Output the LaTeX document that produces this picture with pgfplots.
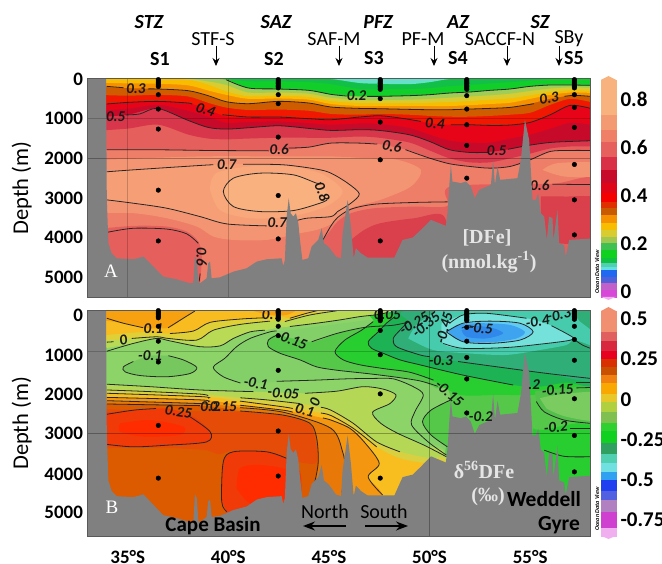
\documentclass[border=0pt]{standalone}
\usepackage{fontspec}
\setmainfont{Carlito}
\newfontfamily\serif{Liberation Serif}
\usepackage{pgfplots}
\pgfplotsset{compat=1.18}
\usepackage{pgfplotstable}
\usetikzlibrary{arrows.meta}

% one picture point is one pixel of the original
\newcommand{\fs}[1]{\fontsize{#1}{#1}\selectfont}
\newcommand{\zone}[2]{\definecolor{c#1}{HTML}{#1}\addplot[fill=c#1,draw=none,smooth] coordinates {#2} -- cycle;}
\newcommand{\sharpzone}[2]{\definecolor{c#1}{HTML}{#1}\addplot[fill=c#1,draw=none] coordinates {#2} -- cycle;}
\newcommand{\bandA}[2]{\definecolor{c#2}{HTML}{#2}\addplot[fill=c#2,draw=none,smooth] table[x=lat,y=#1] {\bandsA} \closedcycle;}
\newcommand{\cb}[3]{\definecolor{c#3}{HTML}{#3}\addplot[fill=c#3,draw=c#3,line width=.1pt] coordinates {(0,#1)(1,#1)(1,#2)(0,#2)} -- cycle;}
\newcommand{\ctr}[1]{\addplot[cl] coordinates {#1};}
\newcommand{\clab}[4][0]{\node[font=\fs{15}\bfseries\itshape,text=black!90,inner sep=0pt,rotate=#1] at (axis cs:#2,#3) {#4};}
\newcommand{\lab}[4][]{\node[inner sep=0pt,#1] at ({#2pt},{563pt-#3pt}) {#4};}

\pgfplotstableread{
lat a b c d e f g h i j k l m
33.5 0 0 0 0 0 90 185 400 631 800 959 1300 1783
35 0 0 0 0 0 110 227 420 589 750 900 1250 1783
36.5 0 0 0 0 0 120 252 400 564 650 740 1150 1783
38 0 0 0 0 17 160 294 440 605 800 1043 1400 1791
39 0 0 0 60 143 290 420 600 774 950 1220 1500 1800
39.9 0 0 17 150 311 400 572 720 942 1100 1262 1520 1800
41 0 60 227 340 437 500 622 780 958 1080 1228 1500 1808
42.5 0 60 252 340 420 490 563 770 958 1070 1178 1480 1800
44 0 80 286 370 454 520 605 800 1000 1110 1245 1480 1716
45.1 0 130 387 470 555 630 706 880 1026 1150 1295 1480 1615
46.5 100 250 437 530 605 680 740 900 959 1120 1278 1450 1615
47.5 120 260 437 530 605 680 748 880 925 1130 1295 1480 1640
49 130 250 420 520 605 680 765 900 1010 1230 1405 1600 1800
50 80 230 395 500 597 680 774 930 1110 1400 1573 1800 1993
51 0 180 353 470 580 680 774 950 1152 1550 1783 2000 2136
52 0 150 328 440 555 660 757 950 1152 1600 1850 2100 2203
53 0 110 286 410 521 630 740 930 1169 1600 1833 2100 2246
54 0 80 252 370 488 600 715 900 1160 1500 1766 2000 2203
55 0 40 185 300 412 500 622 850 1093 1400 1665 1880 2035
56 0 0 151 240 328 400 496 650 900 1250 1598 1750 1825
57 0 0 151 210 286 340 420 500 664 1100 1573 1700 1800
58 0 0 160 220 295 350 437 580 740 1150 1556 1700 1800
}\bandsA

\pgfplotstableread{
lat depth
33 0
33.92 0
33.96 3044
34.04 4138
34.2 4390
34.45 4516
35.28 4541
35.78 4474
36.11 4642
36.77 4979
37.43 5046
38.1 5147
38.26 5130
38.34 4474
38.43 4558
38.51 5105
38.59 5147
38.92 5021
39 4642
39.09 4600
39.17 5021
39.59 4995
40.25 4853
40.91 4768
41.41 4600
41.9 4541
42.65 4516
42.73 4710
42.81 4558
42.9 3465
43 3002
43.1 3381
43.23 3465
43.36 3381
43.48 3633
43.56 4054
43.68 4558
43.97 4516
44.14 4222
44.47 4054
44.64 3759
44.75 4138
44.97 4222
45.1 4306
45.35 4474
45.6 4516
45.68 3885
45.93 3044
46.09 3717
46.23 4516
46.34 4264
46.59 4390
46.92 4499
48.25 4499
48.66 4054
49.16 3995
49.57 3801
50.07 3549
50.81 3700
50.89 3381
50.98 2708
51.06 2161
51.14 2582
51.56 2624
51.81 2582
52.05 2708
52.25 3002
52.47 2792
53.05 2666
53.16 2035
53.25 2666
53.38 2203
53.51 2540
54.37 2498
54.54 2035
54.74 1026
54.95 1531
55.12 3044
55.28 3044
55.4 2876
55.53 3381
55.7 3465
55.83 4054
55.94 3465
56.11 3507
56.16 4054
56.36 3297
56.44 4138
56.69 4180
56.77 4474
56.94 4054
58 4020
58 5600
33 5600
}\bathy

\pgfplotstableread{
lat depth
36.52 15
36.52 50
36.52 85
36.52 120
36.52 155
36.52 190
36.52 395
36.52 757
36.52 1261
36.52 2800
36.52 4079
42.48 15
42.48 50
42.48 85
42.48 120
42.48 155
42.48 190
42.48 225
42.48 395
42.48 622
42.48 1463
42.48 2935
42.48 4028
47.55 15
47.55 50
47.55 85
47.55 120
47.55 155
47.55 190
47.55 225
47.55 260
47.55 496
47.55 1085
47.55 2035
47.55 4079
51.85 15
51.85 50
51.85 85
51.85 120
51.85 155
51.85 190
51.85 225
51.85 260
51.85 420
51.85 757
51.85 1152
51.85 1673
51.85 2498
57.2 15
57.2 50
57.2 85
57.2 120
57.2 155
57.2 190
57.2 225
57.2 395
57.2 715
57.2 1219
57.2 2153
57.2 3044
57.2 3927
}\stations

\pgfplotsset{
  panel/.style={
    scale only axis, width=503pt, y dir=reverse, xmin=33, xmax=58, ymin=0,
    axis on top, axis line style={draw=black!65,line width=1pt},
    xtick={35,40,45,50,55}, major tick length=0pt,
    ytick={0,1000,2000,3000,4000,5000},
    yticklabels={0,1000,2000,3000,4000,5000},
    tick label style={font=\fs{19}\bfseries},
    yticklabel shift=1pt,
    ylabel={Depth (m)}, 
    every axis y label/.style={at={(axis description cs:-0.131,0.5)},rotate=90,anchor=center,font=\fs{22.5}},
  },
  cl/.style={draw=black!85,line width=.8pt,smooth},
  barax/.style={
    scale only axis, width=15pt, xmin=0, xmax=1, xtick=\empty,
    axis line style={draw=none}, major tick length=0pt, clip=false,
    yticklabel pos=right, yticklabel shift=1pt,
    tick label style={font=\fs{21}\bfseries},
  },
}

\begin{document}
\begin{tikzpicture}[x=1pt,y=1pt]
\path[use as bounding box] (0,0) rectangle (662pt,563pt);

%% panel A, [DFe]
\begin{axis}[panel, at={(87.5pt,265.3pt)}, anchor=south west, height=218.7pt, ymax=5509, xticklabels={}]
\sharpzone{EE7E68}{(33,0)(58,0)(58,5509)(33,5509)}
\zone{F39472}{(33.5,2040)(38.59,1950)(42.73,1950)(45.1,1950)(46.75,1990)(48.41,2035)(49.57,2290)(49.07,2710)(47.58,3040)(46.09,3255)(45.21,3630)(44.39,3800)(43.56,3885)(41.9,4054)(40.25,4054)(39.26,3970)(38.43,3717)(36.94,3507)(35.28,3380)(33.5,3380)}
\zone{F39472}{(55.61,2290)(56.36,2120)(58.5,2120)(58.5,2456)(56.69,2456)(55.61,2290)}
\zone{E5605C}{(33,3800)(35.28,3700)(36.94,3717)(37.93,3843)(38.51,4096)(38.68,4474)(38.6,5147)(38.6,5500)(33,5500)}
\zone{E5605C}{(44.22,4558)(44.72,4054)(45.1,3801)(45.43,3591)(46.09,3381)(47.25,3255)(49.24,3213)(50.9,3196)(51.06,2708)(56.03,2640)(58.5,2650)(58.5,5500)(44.22,5500)}
\zone{D9404C}{(46.09,4054)(46.76,3801)(47.55,3633)(49.24,3507)(50.73,3465)(50.73,4726)(46.09,4726)}
\zone{D9404C}{(55.53,2960)(56.69,2960)(58.5,3044)(58.5,4100)(55.53,4100)}
% the warm core round S2
\zone{F69F76}{(33.92,2338)(35.28,2288)(38.59,2178)(40.74,2145)(42.73,2161)(44.39,2271)(45.1,2372)(45.93,2624)(46.51,2893)(46.09,3129)(45.43,3339)(45.1,3465)(43.89,3507)(42.9,3650)(41.9,3700)(39.92,3650)(38.59,3465)(36.94,3255)(35.28,3129)(33.92,3044)}
\zone{F8A87A}{(39.08,2770)(39.4,2370)(41.08,2200)(43.07,2200)(44.72,2410)(45.68,2834)(44.85,3213)(43.07,3465)(41.08,3507)(39.58,3300)(39.08,2770)}
\zone{F9B27F}{(39.75,2834)(40.25,2498)(41.57,2372)(43.23,2414)(44.39,2624)(45.05,2960)(44.55,3129)(43.23,3314)(41.57,3339)(40.25,3213)(39.75,2834)}
% stratified upper water, deepest level first
\bandA{m}{E5605C}
\bandA{l}{D8364A}
\bandA{k}{C80A2A}
\bandA{j}{E80418}
\bandA{i}{F01800}
\bandA{h}{D05C00}
\bandA{g}{F59000}
\bandA{f}{F8BC00}
\bandA{e}{D8CC30}
\bandA{d}{A0CC58}
\bandA{c}{12CE28}
\bandA{b}{12C048}
\bandA{a}{66E0C8}
% contours
\ctr{(39.9,20)(41,227)(42.5,252)(44,286)(45.1,387)(45.9,430)}
\ctr{(46.9,437)(47.5,437)(49,420)(50,395)(51,353)(52,328)(53,286)(54,252)(55,185)(56,151)(57,151)(58,160)}
\ctr{(33.95,185)(34.8,220)}
\ctr{(36,250)(36.5,252)(38,294)(39,420)(39.9,572)(41,622)(42.5,563)(44,605)(45.1,706)(46.5,740)(47.5,748)(49,765)(50,774)(51,774)(52,757)(53,740)(54,715)(55.2,622)}
\ctr{(56.7,437)(57.2,412)(58,437)}
\ctr{(33.95,631)(35,589)(36.5,564)(38,605)(38.2,640)}
\ctr{(39.7,900)(41,958)(42.5,958)(44,1000)(45.1,1026)(46.5,959)(47.5,925)(48.5,980)(49.57,1068)}
\ctr{(51.06,1152)(52,1152)(53,1169)(54,1160)(55,1093)(56,900)(57,664)(58,740)}
\ctr{(34.9,905)(35.6,880)(36.5,740)(38,1043)(39,1220)(39.9,1262)(41,1228)(42.5,1178)(44,1245)(45.1,1295)(46.5,1278)(47.5,1295)(49,1405)(50,1573)(51,1783)(52,1850)(52.9,1850)}
\ctr{(53.9,1770)(55,1665)(56,1598)(57,1573)(58,1556)}
\ctr{(33.95,1783)(36.5,1783)(39,1800)(41.5,1808)(42,1810)}
\ctr{(43,1740)(44,1716)(45.1,1615)(46.5,1615)(47.4,1640)}
\ctr{(48.8,1780)(50,1993)(51,2136)(52,2203)(53,2246)(54,2203)(55,2035)(56,1825)(57,1800)(58,1800)}
\ctr{(33.95,2338)(35.28,2288)(38.59,2178)(39.25,2160)}
\ctr{(40.74,2145)(42.73,2161)(44.39,2271)(45.1,2372)(45.93,2624)(46.51,2893)(46.09,3129)(45.43,3339)(45.1,3465)(43.89,3507)(43.3,3580)}
\ctr{(41.9,3700)(39.92,3650)(38.59,3465)(36.94,3255)(35.28,3129)(33.95,3044)}
\ctr{(44.6,2600)(44.39,2624)(43.23,2414)(41.57,2372)(40.25,2498)(39.75,2834)(40.25,3213)(41.57,3339)(43.23,3314)(44.55,3129)(44.9,3050)}
\ctr{(34,3860)(35.28,3760)(36.94,3780)(37.93,3900)(38.51,4140)}
\ctr{(38.6,4900)(38.55,5100)}
\ctr{(44.7,4054)(45.1,3700)(45.43,3490)(46.09,3280)(47.25,3155)(49.24,3110)(50.9,3095)}
\ctr{(56.1,2650)(58,2660)}
\clab{55.48}{2691}{0.6}
\addplot[fill=black!50,draw=none] table[x=lat,y=depth] {\bathy} -- cycle;
\addplot[black,opacity=.2,line width=.7pt] coordinates {(33,1000)(58,1000)};
\addplot[black,opacity=.3,line width=.7pt] coordinates {(33,2000)(58,2000)};
\addplot[black,opacity=.2,line width=.7pt] coordinates {(35,0)(35,5509)};
\addplot[black,opacity=.2,line width=.7pt] coordinates {(40,0)(40,5509)};
\addplot[only marks,mark=*,mark size=2.3pt,black] table[x=lat,y=depth] {\stations};
\clab{35.41}{244}{0.3}
\clab[-20]{38.87}{774}{0.4}
\clab{34.4}{942}{0.5}
\clab{42.53}{1783}{0.6}
\clab{39.92}{2161}{0.7}
\clab[-70]{44.67}{2834}{0.8}
\clab{42.43}{3616}{0.7}
\clab[-90]{38.68}{4474}{0.6}
\clab{46.37}{420}{0.2}
\clab[-10]{48.13}{1700}{0.6}
\clab[-5]{50.27}{1127}{0.4}
\clab{53.33}{1808}{0.5}
\clab[8]{55.94}{480}{0.3}
\end{axis}

%% panel B, delta 56 DFe
\begin{axis}[panel, at={(87.5pt,26.3pt)}, anchor=south west, height=226.7pt, ymax=5500,
  xticklabels={35°S,40°S,45°S,50°S,55°S}, xticklabel shift=13pt,
  xticklabel style={inner sep=0pt},
  % the labels of the original stand a little off the true depths
  ytick={138,1092,2039,3001,3980,4911}]
\sharpzone{8CD468}{(33,0)(58,0)(58,5500)(33,5500)}
\zone{84D068}{(39.25,1390)(39.83,1170)(40.41,890)(41.08,690)(42.07,530)(43.06,490)(44.39,400)(45.71,320)(47.37,200)(48.36,0)(58.5,0)(58.5,5300)(50.84,5300)(50.84,3520)(49.93,3200)(49.11,2790)(49.27,2470)(49.69,2060)(49.19,1860)(48.2,1670)(47.2,1660)(45.88,1670)(44.39,1700)(41.9,1760)(40.75,1780)(39.75,1620)(39.25,1390)}
\zone{55C84A}{(41.99,730)(42.4,610)(44.14,770)(45.38,570)(46.54,440)(47.2,400)(47.7,240)(48.53,0)(58.5,0)(58.5,5300)(51.06,5300)(51.06,2180)(50.35,1900)(49.52,1720)(48.2,1620)(46.87,1540)(45.38,1460)(44.39,1380)(43.56,1210)(42.57,1050)(41.99,890)(41.99,730)}
\zone{28CE30}{(45.3,1010)(45.79,730)(46.62,490)(47.2,280)(47.86,0)(58.5,0)(58.5,1900)(55.81,1980)(55.15,2060)(53.49,2060)(51.51,2060)(50.35,1760)(49.02,1510)(47.7,1420)(46.54,1330)(45.71,1210)(45.3,1010)}
\zone{28CE30}{(55.15,2870)(55.61,2910)(58.5,2870)(58.5,5300)(55.15,5300)}
\zone{1DB254}{(46.95,770)(47.45,530)(47.86,320)(48.28,160)(48.53,0)(58.5,0)(58.5,1760)(56.8,1760)(55.48,1860)(54.16,1820)(51.67,1580)(49.52,1330)(48.53,1210)(47.7,1050)(47.12,930)(46.95,770)}
\zone{30AE78}{(48.2,690)(48.53,490)(48.94,280)(49.19,0)(58.5,0)(58.5,1660)(55.86,1540)(53.38,1380)(51.42,1250)(49.52,1090)(48.36,890)(48.2,690)}
\zone{46CCAC}{(48.94,690)(49.35,360)(50.18,80)(50.68,-50)(56.47,-50)(57.47,280)(58.5,690)(58.5,930)(57.22,730)(56.8,850)(55.48,970)(53.82,1090)(51.84,1050)(50.18,970)(48.94,690)}
\zone{74E2DA}{(50.6,320)(51.67,120)(52.83,80)(54.82,200)(56.06,380)(56.8,570)(57.17,690)(56.8,750)(55.48,830)(53.82,910)(51.67,930)(50.68,810)(50.6,320)}
\zone{62CCF0}{(50.84,530)(51.67,320)(52.99,270)(54.49,320)(55.15,530)(54.49,730)(52.99,810)(51.67,770)(50.84,530)}
\zone{3FA4F0}{(50.93,510)(51.42,360)(52.5,320)(53.99,360)(54.74,530)(54.32,690)(53.16,780)(52,780)(51.26,690)(50.93,510)}
\zone{2F88EA}{(51.59,490)(52.25,390)(53.16,440)(53.66,570)(52.83,690)(51.84,650)(51.59,490)}
\zone{52C04A}{(55.23,1980)(55.81,1940)(58.5,1900)(58.5,2750)(56.69,2670)(55.7,2470)(55.31,2220)}
\zone{7ACC60}{(55.48,2140)(56.47,2050)(58.5,2020)(58.5,2670)(56.8,2590)(55.81,2390)}
\zone{55C84A}{(51.06,2180)(50.07,2430)(49.65,2710)(50.07,3030)(50.89,3320)(51.06,3360)}
% warm deep water
\zone{B4D855}{(33,1800)(36.11,1860)(38.59,1940)(41.24,1980)(43.81,2020)(45.38,1970)(46.7,1860)(47.7,1920)(48.33,2060)(48.03,2270)(47.17,2480)(47.58,2750)(48.41,2990)(49.73,3280)(50.84,3560)(50.84,5300)(33,5300)}
\zone{D8D040}{(33,1940)(36.11,1980)(38.59,2040)(40.58,2130)(41.9,2180)(43.56,2270)(45.1,2430)(46.21,2750)(47.37,3200)(48.53,3440)(50.02,3600)(50.84,3680)(50.84,5300)(33,5300)}
\zone{F8BE20}{(33,2020)(38.59,2100)(40.58,2210)(42.73,2350)(45.1,2560)(46.21,2870)(47.37,3320)(48.53,3600)(49.85,3720)(50.84,3760)(50.84,5300)(33,5300)}
\zone{F4960F}{(33,2120)(38.59,2180)(40.58,2310)(42.73,2430)(45.1,2670)(46.04,2870)(46.75,3200)(47.5,3720)(46.95,4050)(47.67,4490)(47.67,5300)(33,5300)}
\zone{E87808}{(33,2200)(38.59,2270)(40.58,2370)(42.73,2480)(45.1,2870)(45.68,3440)(45.79,3840)(45.63,4490)(45.63,5300)(33,5300)}
\zone{DC5A00}{(33,2280)(38.59,2320)(40.58,2450)(42.73,2550)(44.06,2750)(44.39,3110)(44.47,3680)(44.3,4170)(44.06,4570)(44.06,5300)(33,5300)}
\zone{E44C08}{(33,2400)(38,2450)(40.58,2470)(42.73,2570)(44,2770)(44.3,3110)(44.4,3680)(43.6,3700)(40.5,3420)(39.5,3500)(38.9,3400)(37,3350)(33,3350)}
\zone{F03A08}{(33,2530)(35.28,2430)(36.94,2390)(38.26,2590)(39.09,2950)(38.92,3200)(36.94,3280)(35.28,3320)(33,3260)}
\zone{FF2C00}{(34.62,2750)(36.11,2670)(37.76,2830)(37.6,3030)(35.78,3070)(34.62,2950)(34.62,2750)}
\zone{F03A08}{(39.67,4650)(39.75,3680)(40.25,3440)(41.9,3440)(42.9,3600)(43.56,3920)(43.64,4490)(43.64,5300)(39.92,5300)(39.92,4890)}
\zone{FF2C00}{(40.41,4330)(40.58,3840)(41.57,3760)(42.9,3880)(43.23,4250)(42.9,4570)(41.24,4730)(40.41,4330)}
% surface water on the northern side
\zone{76C85E}{(37.02,1110)(37.76,1210)(38.43,1390)(38.1,1540)(36.94,1620)(35.61,1590)(34.87,1500)(34.78,1380)(35.28,1250)(36.11,1110)(37.02,1110)}
\zone{B8DA55}{(33,1000)(35.28,810)(36.44,690)(37.1,750)(38.59,890)(39.59,870)(40.25,690)(41.08,530)(41.82,490)(42.48,430)(43.06,400)(44.39,320)(45.55,240)(46.54,160)(47.45,110)(48.36,0)(48.36,-100)(33,-100)}
\zone{E0D038}{(33,780)(35.2,690)(36.44,650)(37.02,690)(38.43,730)(39.25,490)(40.58,350)(42.07,270)(42.48,240)(42.81,280)(44.06,120)(45.38,20)(45.71,0)(45.71,-100)(33,-100)}
\zone{F8BC20}{(33,650)(35.61,540)(37.1,570)(38.26,510)(39.09,300)(40.58,220)(41.74,190)(42.48,140)(43.06,200)(43.89,80)(44.55,0)(44.55,-100)(33,-100)}
\zone{F7A010}{(33,200)(34.78,320)(35.78,430)(37.02,430)(37.76,200)(38.34,20)(38.59,0)(38.59,-100)(33,-100)}
\zone{F7A010}{(41.08,0)(42.07,120)(42.89,120)(43.4,0)(43.4,-100)(41.08,-100)}
% contours
\ctr{(33.96,200)(34.78,320)(35.77,430)}
\ctr{(37.01,430)(37.76,200)(38.34,24)}
\ctr{(37.1,570)(38.26,510)(39.09,300)(40.58,220)(41.74,190)}
\ctr{(43.06,200)(43.89,80)(44.55,0)}
\ctr{(33.96,780)(34.3,770)}
\ctr{(35.2,690)(36.44,650)(37.02,690)(38.43,730)(39.25,490)(40.58,350)(42.07,270)}
\ctr{(42.81,280)(44.06,120)(45.38,20)}
\ctr{(33.96,1000)(35.28,810)(36.44,690)(37.1,750)(38.59,890)(39.59,870)(40.25,690)(41.08,530)(41.82,490)}
\ctr{(43.06,400)(44.39,320)(45.55,240)(46.54,160)(47.45,110)(47.9,60)}
\ctr{(37.02,1110)(37.76,1210)(38.43,1390)(38.1,1540)(36.94,1620)(35.61,1590)(34.87,1500)(34.78,1380)(35.28,1250)}
\ctr{(42.4,510)(42.07,530)(41.08,690)(40.41,890)(39.83,1170)(39.25,1390)(39.75,1620)(40.6,1770)}
\ctr{(42.4,1730)(44.39,1700)(45.88,1670)(47.2,1660)(48.2,1670)(49.19,1860)(49.69,2060)(49.27,2470)(49.11,2790)(49.93,3200)(50.84,3520)}
\ctr{(42.4,610)(41.99,730)(41.99,890)(42.57,1050)(43.56,1210)(44.39,1380)(45.38,1460)(46.87,1540)(48.2,1620)(49.52,1720)(50.4,1850)}
\ctr{(44.14,770)(45.38,570)(46.54,440)(47.2,400)(48.2,370)(48.9,300)}
\ctr{(47.2,280)(46.62,490)(45.79,730)(45.3,1010)(45.71,1210)(46.54,1330)(47.7,1420)(49.02,1510)(50.2,1700)}
\ctr{(48.28,160)(47.86,320)(47.45,530)(46.95,770)(47.12,930)(47.7,1050)(48.53,1210)(49.52,1330)(51.67,1580)(54.16,1820)}
\ctr{(48.94,280)(48.53,490)(48.2,690)(48.36,890)(49.52,1090)(50,1130)}
\ctr{(51.42,1250)(53.38,1380)(55.86,1540)(58,1660)}
\ctr{(50.84,530)(51.67,320)(52.99,270)(54.49,320)(55.15,530)(54.49,730)(52.99,810)(51.67,770)(50.84,530)}
\ctr{(51,320)(51.67,120)(52.83,80)(54.82,200)}
\ctr{(56.06,380)(56.8,570)(57.17,690)(56.8,750)(55.48,830)(53.82,910)(51.67,930)(50.68,810)}
\ctr{(51.6,440)(51.9,380)(52.2,400)}
\ctr{(57.2,720)(57.6,850)(58,930)}
\ctr{(57.3,1760)(58,1760)}
\ctr{(57.3,1890)(58,1880)}
\ctr{(55.31,2220)(55.7,2470)(56.69,2670)(58,2750)}
\ctr{(57,2870)(58,2870)}
\ctr{(55.7,3400)(56.69,3550)(58,3560)}
\ctr{(51.06,2180)(50.07,2430)(49.65,2710)(50.07,3030)(50.89,3320)}
\ctr{(33.96,1800)(36.11,1860)(38.59,1940)(41.24,1980)}
\ctr{(43.81,2020)(45.38,1970)(46.7,1860)(47.7,1920)(48.33,2060)(48.03,2270)(47.17,2480)(47.58,2750)(48.41,2990)(49.73,3280)(50.84,3560)}
\ctr{(33.96,1940)(36.11,1980)(38.59,2040)(39,2080)}
\ctr{(40.6,2130)(41.9,2180)(43.56,2270)}
\ctr{(44.6,2360)(45.1,2430)(46.21,2750)(47.37,3200)(48.53,3440)}
\ctr{(33.96,2020)(38.59,2100)(39,2140)}
\ctr{(40.58,2210)(42.73,2350)(43.2,2390)}
\ctr{(44.6,2500)(45.1,2560)(46.21,2870)(47.37,3320)}
\ctr{(33.96,2120)(38.59,2180)(39,2230)}
\ctr{(40.58,2310)(42.73,2430)(43.2,2480)}
\ctr{(44.7,2620)(45.1,2670)(46.04,2870)(46.75,3200)(47.5,3720)(46.95,4050)(47.67,4490)}
\ctr{(33.96,2200)(38.59,2270)(39,2300)}
\ctr{(40.58,2370)(42.73,2480)(45.1,2870)(45.68,3440)(45.79,3840)(45.63,4490)}
\ctr{(33.96,2280)(38.59,2320)}
\ctr{(40.58,2450)(42.73,2550)(44.06,2750)(44.39,3110)(44.47,3680)(44.3,4170)(44.06,4570)}
\ctr{(33.96,2530)(35.28,2430)(36.4,2390)}
\ctr{(38,2560)(39.09,2950)(38.92,3200)(36.94,3280)(35.28,3320)(33.96,3260)}
\ctr{(39.92,4890)(39.67,4650)(39.75,3680)(40.25,3440)(41.9,3440)(42.9,3600)}
\addplot[fill=black!50,draw=none] table[x=lat,y=depth] {\bathy} -- cycle;
\addplot[black,opacity=.2,line width=.7pt] coordinates {(33,1000)(58,1000)};
\addplot[black,opacity=.3,line width=.7pt] coordinates {(33,3000)(58,3000)};
\addplot[black,opacity=.3,line width=.7pt] coordinates {(50,0)(50,5500)};
\addplot[only marks,mark=*,mark size=2.3pt,black] table[x=lat,y=depth] {\stations};
\clab{36.27}{445}{0.1}
\clab[10]{34.78}{730}{0}
\clab{36.11}{1110}{-0.1}
\clab[-8]{37.52}{2470}{0.25}
\clab{39.09}{2350}{0.2}
\clab{39.75}{2350}{0.15}
\clab[-10]{41.36}{1780}{-0.1}
\clab[-5]{42.73}{2020}{-0.05}
\clab[-15]{43.8}{2430}{0.1}
\clab[70]{44.3}{2250}{0}
\clab{42.15}{120}{0.1}
\clab[-20]{43.15}{730}{-0.15}
\clab[30]{49.24}{320}{-0.25}
\clab[40]{49.82}{360}{-0.35}
\clab[75]{50.73}{440}{-0.45}
\clab[-5]{52.55}{440}{-0.5}
\clab[10]{55.37}{280}{-0.4}
\clab[10]{56.44}{120}{-0.3}
\clab{50.56}{1240}{-0.3}
\clab[-40]{50.98}{2020}{-0.15}
\clab{52.55}{2590}{-0.2}
\clab{55.2}{1820}{.2}
\clab[5]{56.36}{1940}{-0.15}
\clab[5]{56.27}{2850}{-0.2}
\clab{47.9}{120}{0.05}
\end{axis}

%% colour bars
\begin{axis}[barax, at={(601pt,263pt)}, anchor=south west, height=224pt, ymin=-0.033, ymax=0.896,
  ytick={0,0.2,0.4,0.6,0.8}, yticklabels={0,0.2,0.4,0.6,0.8}]
\definecolor{tipa}{HTML}{F7B27E}\definecolor{tipb}{HTML}{F0B0F0}
\addplot[fill=tipa,draw=none] coordinates {(0,.88)(.5,.896)(1,.88)} -- cycle;
\cb{.88}{.734}{F7B27E}\cb{.734}{.672}{F49A72}\cb{.672}{.624}{F07F68}\cb{.624}{.561}{E6605E}
\cb{.561}{.506}{D93048}\cb{.506}{.45}{C80A2A}\cb{.45}{.41}{E00418}\cb{.41}{.375}{F40000}
\cb{.375}{.347}{E03000}\cb{.347}{.32}{C85A00}\cb{.32}{.285}{F59000}\cb{.285}{.257}{F8BC00}
\cb{.257}{.229}{D8CC30}\cb{.229}{.202}{A0C850}\cb{.202}{.174}{40C050}\cb{.174}{.14}{10D020}
\cb{.14}{.119}{10C040}\cb{.119}{.105}{50D0B0}\cb{.105}{.09}{60E0E0}\cb{.09}{.063}{2068F0}
\cb{.063}{.036}{5060D8}\cb{.036}{.008}{C060C8}\cb{.008}{-.02}{D848D8}
\addplot[fill=tipb,draw=none] coordinates {(0,-.02)(.5,-.033)(1,-.02)} -- cycle;
\end{axis}
\begin{axis}[barax, at={(601pt,24pt)}, anchor=south west, height=232pt, ymin=-0.87, ymax=0.575,
  ytick={-0.75,-0.5,-0.25,0,0.25,0.5}, yticklabels={-0.75,-0.5,-0.25,0,0.25,0.5}]
\definecolor{tipc}{HTML}{F09070}\definecolor{tipd}{HTML}{F0B0F0}
\addplot[fill=tipc,draw=none] coordinates {(0,.55)(.5,.575)(1,.55)} -- cycle;
\cb{.55}{.42}{F09070}\cb{.42}{.36}{E06060}\cb{.36}{.30}{D82840}\cb{.30}{.25}{E80020}
\cb{.25}{.20}{D83000}\cb{.20}{.15}{C85000}\cb{.15}{.10}{F08010}\cb{.10}{.03}{F8A800}
\cb{.03}{-.02}{E8C828}\cb{-.02}{-.08}{B0D040}\cb{-.08}{-.15}{80C050}\cb{-.15}{-.20}{30D030}
\cb{-.20}{-.27}{10D020}\cb{-.27}{-.34}{30A060}\cb{-.34}{-.40}{50D0B0}\cb{-.40}{-.45}{70E0E0}
\cb{-.45}{-.50}{30A0F0}\cb{-.50}{-.57}{2040F0}\cb{-.57}{-.63}{5060E0}\cb{-.63}{-.70}{B080C0}
\cb{-.70}{-.80}{D040D0}\cb{-.80}{-.85}{F0B0F0}
\addplot[fill=tipd,draw=none] coordinates {(0,-.85)(.5,-.87)(1,-.85)} -- cycle;
\end{axis}

%% annotations
\lab[font=\fs{20}\bfseries\itshape]{149}{22}{STZ}
\lab[font=\fs{20}\bfseries\itshape]{276}{22}{SAZ}
\lab[font=\fs{20}\bfseries\itshape]{378}{22}{PFZ}
\lab[font=\fs{20}\bfseries\itshape]{458}{22}{AZ}
\lab[font=\fs{20}\bfseries\itshape]{540}{22}{SZ}
\lab[font=\fs{20}]{213}{39}{STF-S}
\lab[font=\fs{20}]{334}{39}{SAF-M}
\lab[font=\fs{20}]{423}{39}{PF-M}
\lab[font=\fs{20}]{500}{39}{SACCF-N}
\lab[font=\fs{20}]{569}{39}{SBy}
\lab[font=\fs{20}\bfseries]{160}{59}{S1}
\lab[font=\fs{20}\bfseries]{274}{59}{S2}
\lab[font=\fs{20}\bfseries]{374}{58}{S3}
\lab[font=\fs{20}\bfseries]{458}{58}{S4}
\lab[font=\fs{20}\bfseries]{574}{58}{S5}
\foreach \ax in {216,339,434,507,559}
  \draw[-{Stealth[length=8pt,width=7pt]},line width=1pt] ({\ax pt},{563pt-46pt}) -- ({\ax pt},{563pt-66pt});
\lab[font=\serif\fs{19},text=white]{111}{271}{A}
\lab[font=\serif\fs{19},text=white]{112}{507}{B}
\lab[font=\serif\fs{20}\bfseries,text=white!90!black]{487}{238}{[DFe]}
\lab[font=\serif\fs{20}\bfseries,text=white!90!black]{489}{262}{(nmol.kg\textsuperscript{-1})}
\lab[font=\serif\fs{20}\bfseries,text=white!90!black]{484}{470}{δ\textsuperscript{56}DFe}
\lab[font=\serif\fs{20}\bfseries,text=white!90!black]{488}{497}{(‰)}
\lab[font=\fs{21.5}\bfseries]{544}{499}{Weddell}
\lab[font=\fs{21.5}\bfseries]{559}{525}{Gyre}
\lab[font=\fs{21}\bfseries]{213}{526}{Cape Basin}
\lab[font=\fs{20}]{325}{512}{North}
\lab[font=\fs{20}]{384}{512}{South}
\draw[-{Stealth[length=12pt,width=9pt]},line width=1.5pt] (346pt,{563pt-526pt}) -- (303pt,{563pt-526pt});
\draw[-{Stealth[length=12pt,width=9pt]},line width=1.5pt] (365pt,{563pt-526pt}) -- (408pt,{563pt-526pt});
\lab[font=\fs{6}\bfseries\itshape,rotate=90]{597}{272}{Ocean Data View}
\lab[font=\fs{6}\bfseries\itshape,rotate=90]{597}{509}{Ocean Data View}
\end{tikzpicture}
\end{document}
